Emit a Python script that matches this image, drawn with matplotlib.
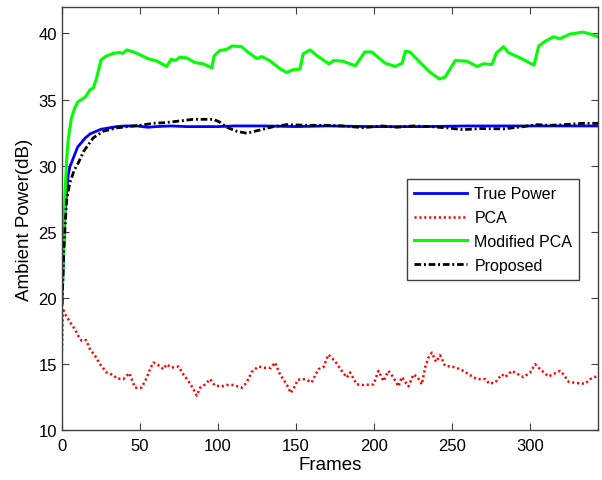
import matplotlib
matplotlib.use('Agg')
import matplotlib.pyplot as plt

plt.rcParams['font.family'] = ['Liberation Sans', 'DejaVu Sans']

# values
true_x = [0, 1, 2, 3, 4, 5, 7, 10, 15, 18, 20, 25, 30, 35, 40, 48, 55, 60, 70, 80,
          100, 110, 120, 130, 150, 170, 200, 230, 260, 290, 320, 343.5]
true_y = [19.5, 23.5, 26.5, 28, 29.3, 29.9, 30.5, 31.4, 32.1, 32.4, 32.5, 32.75, 32.85,
          32.95, 33.0, 33.0, 32.9, 32.95, 33.0, 32.95, 32.95, 33.0, 33.0, 33.0, 32.95,
          33.0, 32.95, 32.95, 33.0, 33.0, 33.0, 33.0]

pca_x = [0, 0.5, 2, 5, 8.3, 10.5, 12.6, 15.4, 18, 21.2, 24.4, 28.6, 33, 35, 39.3, 43.2,
         46.8, 51, 54.3, 56.4, 58.5, 61.7, 65, 67, 70.3, 74.6, 77.8, 81, 84.2, 86.3, 88.5,
         91.7, 95, 98, 102.4, 105.6, 109.8, 115.2, 118.4, 121.6, 125.8, 130, 133.8, 136.5,
         139.7, 144, 146.6, 149.4, 151, 155.8, 160, 164.3, 167.5, 170.7, 175, 179.3, 182.5,
         184.6, 188.9, 193.2, 199.6, 202.8, 206, 209.2, 212.4, 215.6, 217.8, 222, 225.2,
         227.8, 230.6, 232.7, 234.8, 237, 239.7, 242.3, 245.5, 251.9, 257.3, 261.5, 265.8,
         271.2, 273.9, 277.6, 281.9, 284, 288.3, 292.5, 295.7, 300, 303.2, 306.4, 311.7,
         319.2, 321.4, 324.6, 330, 335.3, 338.5, 343.5]
pca_y = [16.0, 19.2, 18.75, 18.2, 17.6, 17.1, 16.75, 16.8, 16.1, 15.6, 14.97, 14.35, 14.15,
         13.9, 13.85, 14.3, 13.2, 13.2, 13.95, 14.6, 15.1, 14.9, 14.6, 14.97, 14.72, 14.8,
         14.2, 13.7, 13.1, 12.6, 13.2, 13.45, 13.85, 13.35, 13.3, 13.4, 13.4, 13.2, 13.6,
         14.4, 14.8, 14.7, 14.7, 15.1, 14.2, 13.45, 12.8, 13.35, 13.8, 13.85, 13.6, 14.6,
         14.75, 15.7, 15.2, 14.47, 13.97, 14.35, 13.45, 13.4, 13.45, 14.47, 13.7, 14.47,
         13.97, 13.3, 14.0, 13.3, 14.2, 14.0, 13.45, 14.72, 15.47, 15.85, 15.15, 15.65,
         14.85, 14.75, 14.47, 14.15, 13.85, 13.85, 13.5, 13.6, 14.2, 14.0, 14.47, 14.2,
         14.0, 14.35, 14.97, 14.6, 14.05, 14.47, 14.2, 13.65, 13.55, 13.5, 13.85, 14.1]

mod_x = [0, 1, 2, 3, 4, 5, 6, 8, 10, 15, 18, 20, 22, 25, 28.6, 33, 37, 39, 41.5, 47, 55,
         61, 67, 70, 72.5, 75.5, 80, 85, 90.5, 96, 97.5, 101, 105.5, 109, 115, 119.5, 125,
         128, 133, 140, 144, 148, 152.5, 154.5, 159, 163, 171, 174, 180, 188, 194, 198.5,
         207, 213.5, 218, 220, 223, 229.5, 236, 242, 245.5, 252, 259.5, 266, 270, 275.5,
         278.5, 283, 286, 293.5, 302.5, 305.5, 309.5, 315, 319, 325.5, 334, 338.5, 343.5]
mod_y = [19.5, 24, 28, 30.5, 32, 32.8, 33.6, 34.3, 34.8, 35.2, 35.75, 35.85, 36.55, 38.0,
         38.3, 38.5, 38.55, 38.5, 38.75, 38.55, 38.1, 37.9, 37.5, 38.05, 37.95, 38.2, 38.15,
         37.8, 37.7, 37.4, 38.3, 38.7, 38.8, 39.05, 39.0, 38.55, 38.1, 38.25, 37.95, 37.3,
         37.05, 37.25, 37.3, 38.45, 38.75, 38.35, 37.7, 37.95, 37.9, 37.55, 38.6, 38.6,
         37.75, 37.5, 37.75, 38.65, 38.6, 37.8, 37.05, 36.55, 36.7, 37.95, 37.9, 37.5, 37.7,
         37.65, 38.55, 39.0, 38.55, 38.15, 37.6, 39.05, 39.4, 39.75, 39.6, 39.95, 40.1,
         39.95, 39.75]

prop_x = [0, 1, 2, 3, 5, 8, 10, 14, 20, 26.5, 35, 42, 50, 58.5, 66, 73.5, 84, 97, 101,
          105.5, 112, 118.4, 127, 135.5, 144, 157, 170, 180, 193, 205, 214.5, 225, 236,
          247, 257, 268, 283, 294.5, 304, 313, 321.5, 334, 343.5]
prop_y = [19.5, 23, 25.5, 27.4, 28.7, 29.7, 30.1, 31.1, 32.1, 32.6, 32.85, 32.95, 33.05,
          33.2, 33.25, 33.35, 33.5, 33.5, 33.3, 32.9, 32.6, 32.45, 32.7, 32.95, 33.1, 33.05,
          33.05, 33.0, 32.87, 33.0, 32.9, 33.0, 32.95, 32.85, 32.72, 32.8, 32.78, 32.93,
          33.1, 33.05, 33.1, 33.2, 33.2]

fig = plt.figure(figsize=(6.02, 4.81), dpi=100)
ax = fig.add_axes([0.103, 0.104, 0.8904, 0.8794])

ax.plot(true_x, true_y, color='#0000ff', lw=2, label='True Power')
ax.plot(pca_x, pca_y, color='#ff0000', lw=1.8, dashes=(0.85, 1.1),
        dash_capstyle='butt', label='PCA')
ax.plot(mod_x, mod_y, color='#00ff00', lw=2.2, label='Modified PCA')
ax.plot(prop_x, prop_y, color='black', lw=2, dashes=(2.4, 1.0, 0.7, 1.0),
        label='Proposed')

ax.set_xlim(0, 343.5)
ax.set_ylim(10, 42)
ax.set_xticks([0, 50, 100, 150, 200, 250, 300])
ax.set_yticks([10, 15, 20, 25, 30, 35, 40])
ax.tick_params(direction='in', top=True, right=True, labelsize=12, colors='#404040',
               labelcolor='black', length=5)
ax.tick_params(axis='x', pad=6)
for s in ax.spines.values():
    s.set_color('#404040')
    s.set_linewidth(1)

ax.set_xlabel('Frames', fontsize=13.5, labelpad=2)
ax.set_ylabel('Ambient Power(dB)', fontsize=13.5, labelpad=4)

leg = ax.legend(loc='upper left', bbox_to_anchor=(0.644, 0.593), borderaxespad=0,
                fontsize=11.5, fancybox=False, edgecolor='#404040', framealpha=1,
                handlelength=3.3, handletextpad=0.45, labelspacing=0.55, borderpad=0.45)
leg.get_frame().set_linewidth(1)

fig.savefig('out.png', dpi=100)
